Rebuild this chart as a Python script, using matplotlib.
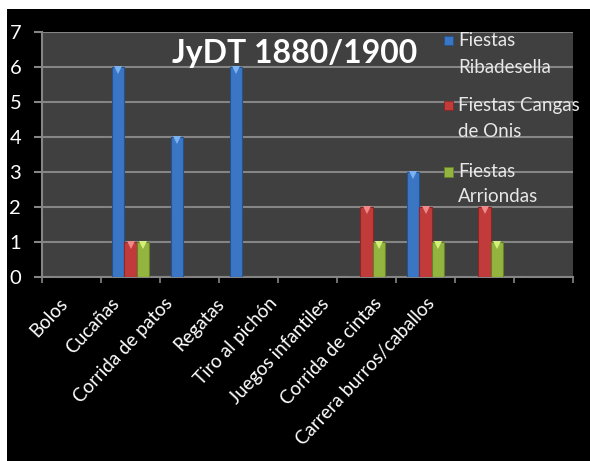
import numpy as np
import matplotlib
matplotlib.use("Agg")
import matplotlib.pyplot as plt
from matplotlib.patches import Rectangle
from matplotlib import transforms

plt.rcParams['font.family'] = ['Lato', 'DejaVu Sans']

categories = ["Bolos", "Cucañas", "Corrida de patos", "Regatas", "Tiro al pichón",
              "Juegos infantiles", "Corrida de cintas", "Carrera burros/caballos", ""]
series_names = ["Fiestas\nRibadesella", "Fiestas Cangas\nde Onis", "Fiestas\nArriondas"]
ribadesella = [0, 6, 4, 6, 0, 0, 3, 0, 0]
cangas = [0, 1, 0, 0, 0, 2, 2, 2, 0]
arriondas = [0, 1, 0, 0, 0, 1, 1, 1, 0]
title = "JyDT 1880/1900"

colors = ["#3a76c4", "#c23b3b", "#93b43e"]
edges = ["#24528e", "#8a2626", "#66802a"]
tips = ["#7cb2f2", "#f08a8a", "#d4f07a"]

fig = plt.figure(figsize=(5.9, 4.61), dpi=100)
fig.patch.set_facecolor("white")
# black backdrop, leaving a thin white strip at top and left
fig.patches.append(Rectangle((7 / 590, 0), 1, 1 - 9 / 461, transform=fig.transFigure,
                             facecolor="black", edgecolor="none", zorder=-10))

ax = fig.add_axes([42 / 590, 1 - 277 / 461, 531 / 590, 245 / 461])
ax.set_facecolor("#404040")

x = np.arange(len(categories))
width = 0.21
tip_tr = transforms.offset_copy(ax.transData, fig=fig, y=-3, units="dots")
for k, vals in enumerate([ribadesella, cangas, arriondas]):
    xs = x + (k - 1) * width
    vals = np.array(vals)
    ax.bar(xs, vals, width=width, color=colors[k], edgecolor=edges[k], linewidth=0.8, zorder=3)
    m = vals > 0
    ax.plot(xs[m], vals[m], linestyle="none", marker="v", markersize=6,
            color=tips[k], markeredgewidth=0, transform=tip_tr, zorder=4)

ax.set_xlim(-0.5, len(categories) - 0.5)
ax.set_ylim(0, 7)
ax.set_yticks(range(0, 8))
ax.yaxis.grid(True, color="#858585", linewidth=1.5, zorder=0)
ax.set_axisbelow(True)

for s in ["top", "right"]:
    ax.spines[s].set_visible(False)
for s in ["left", "bottom"]:
    ax.spines[s].set_color("#858585")
    ax.spines[s].set_linewidth(1.5)

ax.tick_params(axis="y", colors="#858585", length=6, width=1.5, labelcolor="white",
               labelsize=14.5, pad=9)
ax.set_xticks(np.arange(-0.5, len(categories)))
ax.set_xticklabels([])
ax.tick_params(axis="x", which="major", colors="#858585", length=4, width=1.2)

# category labels, slanted
lab_pos = -0.12 + 0.889 * np.arange(len(categories))
ax.set_xticks(lab_pos, minor=True)
ax.set_xticklabels(categories, minor=True, rotation=47, ha="right", va="center",
                   rotation_mode="anchor")
ax.tick_params(axis="x", which="minor", length=0, labelsize=13.5, labelcolor="white", pad=17)

ax.text(0.475, 0.873, title, transform=ax.transAxes, ha="center", va="baseline",
        fontsize=23, fontweight="bold", color="white", zorder=6)

# legend drawn at the right of the plot area, one text per line
leg_y = [(0.943, 0.833), (0.678, 0.571), (0.408, 0.306)]
sq_y = [0.967, 0.702, 0.429]
for k, name in enumerate(series_names):
    ax.add_patch(Rectangle((0.757, sq_y[k] - 0.019), 0.017, 0.037, transform=ax.transAxes,
                           facecolor=colors[k], edgecolor=edges[k], linewidth=0.6,
                           zorder=6, clip_on=False))
    for line, yy in zip(name.split("\n"), leg_y[k]):
        ax.text(0.783, yy, line, transform=ax.transAxes, ha="left", va="baseline",
                fontsize=13.5, color="#e8e8e8", zorder=6, clip_on=False)

fig.savefig("out.png", dpi=100, facecolor=fig.get_facecolor())
